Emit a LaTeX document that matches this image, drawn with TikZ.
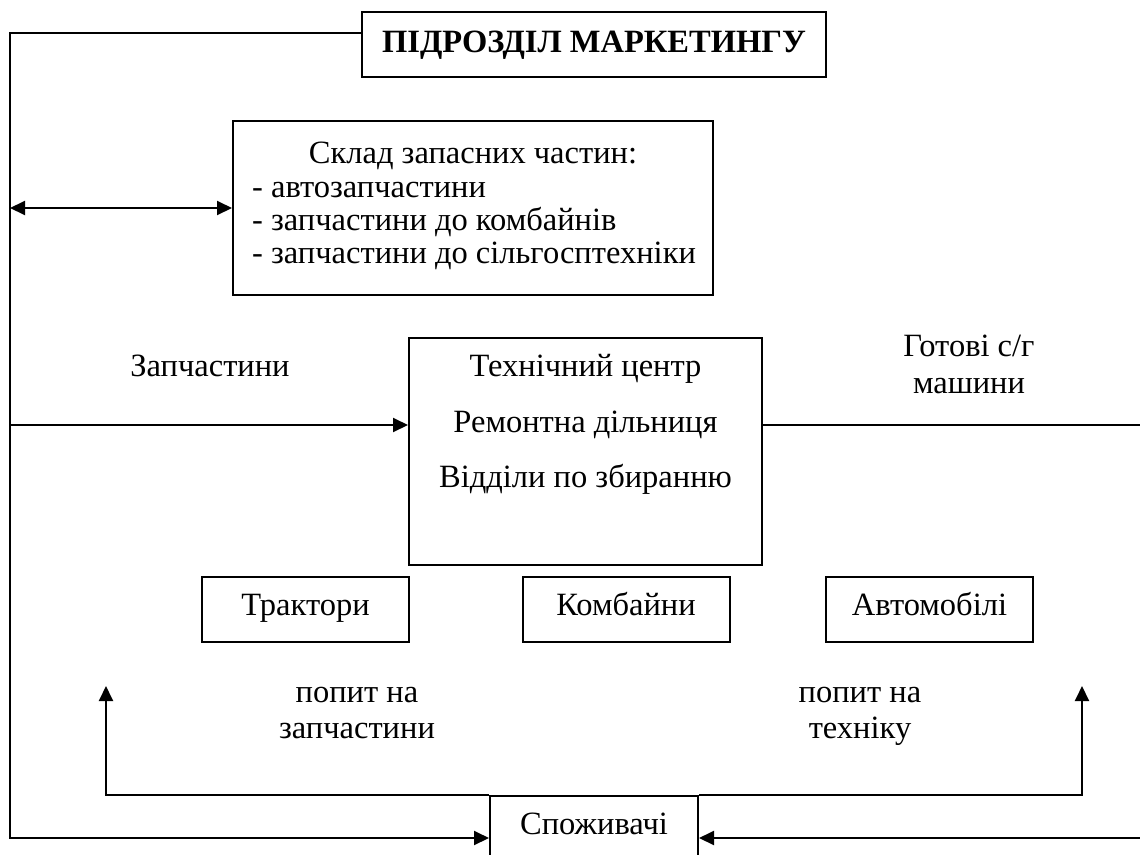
\documentclass[tikz,border=0pt]{standalone}
\usepackage{fontspec}
\setmainfont{Liberation Serif}
\usetikzlibrary{arrows.meta}
\tikzset{
  box/.style={draw, line width=2pt, inner sep=0pt},
  lbl/.style={align=center, inner sep=0pt, anchor=base},
  link/.style={line width=2pt},
  arr/.style={link, -{Triangle[length=15pt,width=14pt]}},
}
\begin{document}
\begin{tikzpicture}[x=1pt, y=-1pt, font=\fontsize{32.5}{36}\selectfont]
  \clip (0,0) rectangle (1140,854);
  % блоки
  \node[box, minimum width=464pt, minimum height=65pt, text height=18pt, text depth=3pt,
    font=\fontsize{32.5}{36}\selectfont\bfseries] (market) at (594,44.5) {ПІДРОЗДІЛ МАРКЕТИНГУ};
  \node[box, minimum width=480pt, minimum height=174pt] (sklad) at (473,208) {};
  \node[lbl] (skladtitle) at (473,163) {Склад запасних частин:};
  % базова лінія останнього рядка
  \node[lbl, align=left, anchor=base west, font=\fontsize{32.5}{33}\selectfont] (skladlist) at (252,263)
    {- автозапчастини\\- запчастини до комбайнів\\- запчастини до сільгосптехніки};
  \node[box, minimum width=353pt, minimum height=227pt] (tech) at (585.5,451.5) {};
  \node[lbl] (techa) at (585.5,376) {Технічний центр};
  \node[lbl] (techb) at (585.5,432) {Ремонтна дільниця};
  \node[lbl] (techc) at (585.5,487) {Відділи по збиранню};
  \tikzset{small/.style={box, minimum width=207pt, minimum height=65pt, text height=13.5pt, text depth=2.5pt}}
  \node[small] (trak) at (305.5,609.5) {Трактори};
  \node[small] (komb) at (626,609.5) {Комбайни};
  \node[small] (avto) at (929.5,609.5) {Автомобілі};
  \node[box, minimum width=208pt, minimum height=62pt, text height=18pt, text depth=4pt,
    anchor=north] (spozh) at (594,795) {Споживачі};
  % підписи
  \node[lbl] (zap) at (210,376) {Запчастини};
  \node[lbl, font=\fontsize{32.5}{37}\selectfont] (gotovi) at (969,393) {Готові с/г\\машини};
  \node[lbl] (popzap) at (357,738) {попит на\\запчастини};
  \node[lbl] (poptech) at (860,738) {попит на\\техніку};
  % опорні точки
  \coordinate (tl) at (10,33);
  \coordinate (bl) at (10,838);
  \coordinate (br) at (1140,838);
  \coordinate (feed) at (10,425);
  \coordinate (rout) at (1140,425);
  \coordinate (la) at (106,686);
  \coordinate (ra) at (1082,686);
  % зв'язки
  \draw[arr] (tl -| market.west) -- (tl) -- (bl) -- (bl -| spozh.west);
  \draw[link, {Triangle[length=15pt,width=14pt]}-{Triangle[length=15pt,width=14pt]}]
    (tl |- sklad.west) -- (sklad.west);
  \draw[arr] (feed) -- (feed -| tech.west);
  \draw[link] (feed -| tech.east) -- (rout);
  \draw[arr] (spozh.north west) -- (spozh.north west -| la) -- (la);
  \draw[arr] (spozh.north east) -- (spozh.north east -| ra) -- (ra);
  \draw[arr] (br) -- (br -| spozh.east);
\end{tikzpicture}
\end{document}
